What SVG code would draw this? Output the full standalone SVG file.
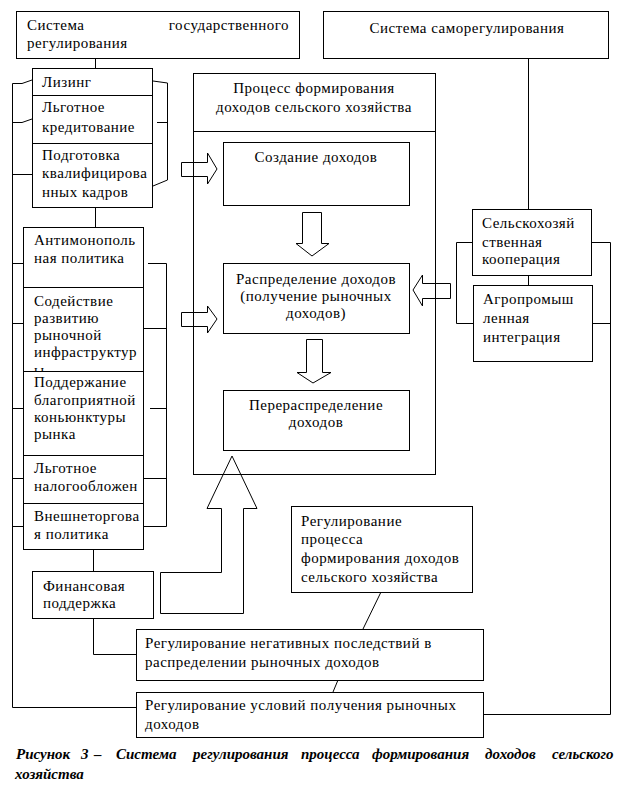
<svg xmlns="http://www.w3.org/2000/svg" width="626" height="794" viewBox="0 0 626 794">
<style>
.box{fill:#fff;stroke:#000;stroke-width:1;shape-rendering:crispEdges}
.ln{fill:none;stroke:#000;stroke-width:1}
.ar{fill:none;stroke:#000;stroke-width:1}
.t{font-family:"Liberation Serif","Times New Roman",serif;font-size:15px;letter-spacing:0.5px;fill:#000}
.c{text-anchor:middle}
.cap{font-family:"Liberation Serif","Times New Roman",serif;font-size:15px;font-weight:bold;font-style:italic;fill:#000}
</style>
<defs>
<clipPath id="clipInfra"><rect x="23" y="287" width="120" height="84"/></clipPath>
</defs>
<rect x="0" y="0" width="626" height="794" fill="#fff"/>
<g id="connectors">
<line class="ln" x1="95.5" y1="59" x2="95.5" y2="68"/>
<line class="ln" x1="95.5" y1="207" x2="95.5" y2="227"/>
<line class="ln" x1="93.5" y1="549" x2="93.5" y2="571"/>
<polyline class="ln" points="93.5,619 93.5,654.5 136,654.5"/>
<polyline class="ln" points="32,80 22,83.5 12.5,83.5 12.5,707.5 136,707.5"/>
<polyline class="ln" points="12.5,122.5 22,122.5 32,119"/>
<line class="ln" x1="12.5" y1="174.5" x2="32" y2="174.5"/>
<line class="ln" x1="12.5" y1="263.5" x2="23" y2="263.5"/>
<line class="ln" x1="12.5" y1="323.5" x2="23" y2="323.5"/>
<line class="ln" x1="12.5" y1="408.5" x2="23" y2="408.5"/>
<line class="ln" x1="12.5" y1="478.5" x2="23" y2="478.5"/>
<line class="ln" x1="12.5" y1="526.5" x2="23" y2="526.5"/>
<polyline class="ln" points="153,81 167.5,83 167.5,180 153,186"/>
<line class="ln" x1="157" y1="122.5" x2="167.5" y2="122.5"/>
<polyline class="ln" points="148,263.5 166.5,263.5 166.5,526.5 143,526.5"/>
<line class="ln" x1="143" y1="328.5" x2="166.5" y2="328.5"/>
<line class="ln" x1="150" y1="408.5" x2="166.5" y2="408.5"/>
<line class="ln" x1="143" y1="478.5" x2="166.5" y2="478.5"/>
<line class="ln" x1="528.5" y1="59" x2="528.5" y2="209"/>
<line class="ln" x1="528.5" y1="275" x2="528.5" y2="285"/>
<polyline class="ln" points="472,242.5 456.5,242.5 456.5,323.5 473,323.5"/>
<polyline class="ln" points="591,242.5 610.5,242.5 610.5,714.5 483,714.5"/>
<line class="ln" x1="592" y1="323.5" x2="610.5" y2="323.5"/>
<line class="ln" x1="381" y1="592" x2="363" y2="629"/>
<line class="ln" x1="338" y1="680" x2="333" y2="692"/>
<polygon class="ar" points="181.5,162.5 207.5,162.5 207.5,153 217,169 207.5,184 207.5,176.5 181.5,176.5"/>
<polygon class="ar" points="181.5,312.5 207.5,312.5 207.5,306 217,319 207.5,333 207.5,326.5 181.5,326.5"/>
<polygon class="ar" points="450.5,283.5 422.5,283.5 422.5,275 413,290 422.5,306 422.5,298.5 450.5,298.5"/>
<polygon class="ar" points="302.5,212.5 321.5,212.5 321.5,243.5 329,243.5 312,256 296,243.5 302.5,243.5"/>
<polygon class="ar" points="306.5,339.5 322.5,339.5 322.5,372.5 331,372.5 313,383 297,372.5 306.5,372.5"/>
<polygon class="ar" points="232,456 257,508.5 243.5,508.5 243.5,613.5 160.5,613.5 160.5,572.5 221.5,572.5 221.5,508.5 207,508.5"/>
</g>
<g id="n-gos">
<rect class="box" x="16.5" y="11.5" width="283" height="47"/>
<text class="t" x="27" y="30">Система</text>
<text class="t" x="289" y="30" text-anchor="end">государственного</text>
<text class="t" x="27" y="48">регулирования</text>
</g>
<g id="n-selfreg">
<rect class="box" x="323.5" y="11.5" width="285" height="47"/>
<text class="t c" x="467" y="33">Система саморегулирования</text>
</g>
<g id="n-lizing">
<rect class="box" x="32.5" y="68.5" width="120" height="27"/>
<text class="t" x="42" y="87">Лизинг</text>
</g>
<g id="n-kredit">
<rect class="box" x="32.5" y="95.5" width="120" height="48"/>
<text class="t" x="42" y="112">Льготное</text>
<text class="t" x="42" y="132">кредитование</text>
</g>
<g id="n-kadry">
<rect class="box" x="32.5" y="143.5" width="120" height="64"/>
<text class="t" x="42" y="160">Подготовка</text>
<text class="t" x="42" y="178">квалифицирова</text>
<text class="t" x="42" y="197">нных кадров</text>
</g>
<g id="n-antimon">
<rect class="box" x="23.5" y="227.5" width="120" height="60"/>
<text class="t" x="34" y="245">Антимонополь</text>
<text class="t" x="34" y="263">ная политика</text>
</g>
<g id="n-infra">
<rect class="box" x="23.5" y="287.5" width="120" height="84"/>
<g clip-path="url(#clipInfra)">
<text class="t" x="34" y="306">Содействие</text>
<text class="t" x="34" y="323">развитию</text>
<text class="t" x="34" y="340">рыночной</text>
<text class="t" x="34" y="357">инфраструктур</text>
<text class="t" x="34" y="375">ы</text>
</g>
</g>
<g id="n-konj">
<rect class="box" x="23.5" y="371.5" width="120" height="84"/>
<text class="t" x="34" y="387">Поддержание</text>
<text class="t" x="34" y="405">благоприятной</text>
<text class="t" x="34" y="422">коньюнктуры</text>
<text class="t" x="34" y="439">рынка</text>
</g>
<g id="n-nalog">
<rect class="box" x="23.5" y="455.5" width="120" height="48"/>
<text class="t" x="34" y="473">Льготное</text>
<text class="t" x="34" y="491">налогообложен</text>
</g>
<g id="n-vnesh">
<rect class="box" x="23.5" y="503.5" width="120" height="46"/>
<text class="t" x="34" y="521">Внешнеторгова</text>
<text class="t" x="34" y="539">я политика</text>
</g>
<g id="n-finance">
<rect class="box" x="32.5" y="571.5" width="121" height="47"/>
<text class="t" x="43" y="591">Финансовая</text>
<text class="t" x="43" y="608">поддержка</text>
</g>
<g id="n-process">
<rect class="ln" x="193.5" y="73.5" width="242" height="401" style="shape-rendering:crispEdges"/>
<line class="ln" x1="193.5" y1="131.5" x2="435.5" y2="131.5" style="shape-rendering:crispEdges"/>
<text class="t c" x="314" y="93">Процесс формирования</text>
<text class="t c" x="314" y="112">доходов сельского хозяйства</text>
</g>
<g id="n-create">
<rect class="box" x="223.5" y="142.5" width="186" height="63"/>
<text class="t c" x="316" y="162">Создание доходов</text>
</g>
<g id="n-distr">
<rect class="box" x="223.5" y="263.5" width="186" height="70"/>
<text class="t c" x="316" y="284">Распределение доходов</text>
<text class="t c" x="316" y="301">(получение рыночных</text>
<text class="t c" x="316" y="318">доходов)</text>
</g>
<g id="n-redistr">
<rect class="box" x="223.5" y="390.5" width="186" height="60"/>
<text class="t c" x="316" y="410">Перераспределение</text>
<text class="t c" x="316" y="427">доходов</text>
</g>
<g id="n-coop">
<rect class="box" x="472.5" y="209.5" width="119" height="66"/>
<text class="t" x="482" y="228">Сельскохозяй</text>
<text class="t" x="482" y="247">ственная</text>
<text class="t" x="482" y="264">кооперация</text>
</g>
<g id="n-agro">
<rect class="box" x="473.5" y="285.5" width="119" height="76"/>
<text class="t" x="483" y="304">Агропромыш</text>
<text class="t" x="483" y="323">ленная</text>
<text class="t" x="483" y="342">интеграция</text>
</g>
<g id="n-regproc">
<rect class="box" x="291.5" y="506.5" width="181" height="86"/>
<text class="t" x="301" y="526">Регулирование</text>
<text class="t" x="301" y="544">процесса</text>
<text class="t" x="301" y="563">формирования доходов</text>
<text class="t" x="301" y="582">сельского хозяйства</text>
</g>
<g id="n-neg">
<rect class="box" x="136.5" y="629.5" width="347" height="51"/>
<text class="t" x="145" y="648">Регулирование негативных последствий в</text>
<text class="t" x="145" y="667">распределении рыночных доходов</text>
</g>
<g id="n-cond">
<rect class="box" x="136.5" y="692.5" width="347" height="45"/>
<text class="t" x="145" y="710">Регулирование условий получения рыночных</text>
<text class="t" x="145" y="729">доходов</text>
</g>
<g id="caption">
<text class="cap" y="759"><tspan x="16">Рисунок</tspan><tspan x="81">3</tspan><tspan x="94">–</tspan><tspan x="116">Система</tspan><tspan x="193">регулирования</tspan><tspan x="301">процесса</tspan><tspan x="372">формирования</tspan><tspan x="485">доходов</tspan><tspan x="552">сельского</tspan></text>
<text class="cap" x="15" y="779">хозяйства</text>
</g>
</svg>
